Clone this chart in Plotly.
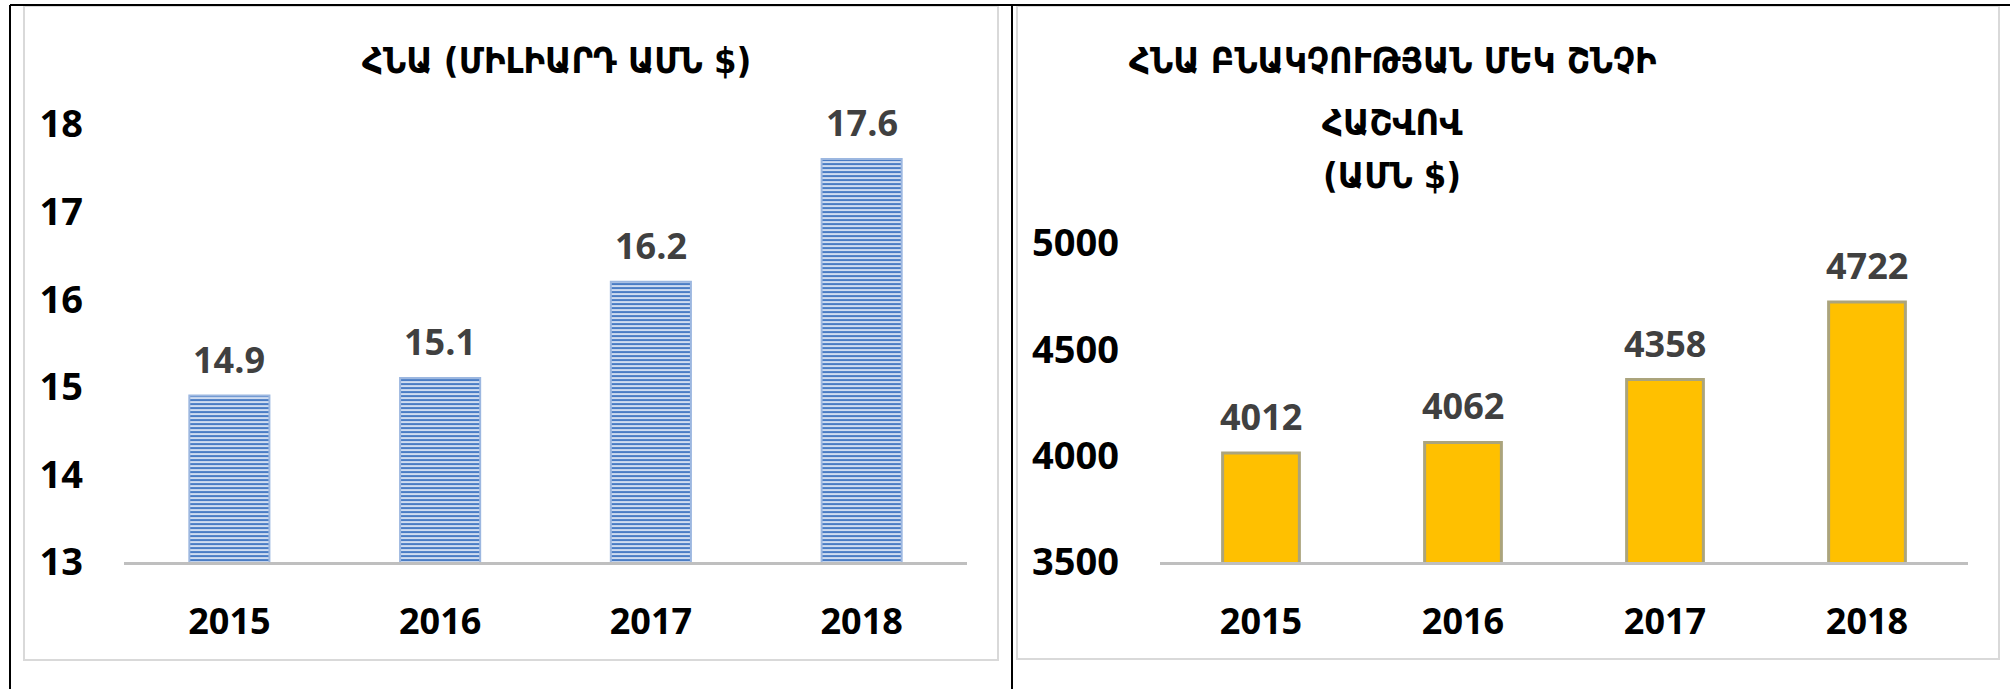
import plotly.graph_objects as go

# ---- data ----
years = ["2015", "2016", "2017", "2018"]
gdp_bn = [14.9, 15.1, 16.2, 17.6]
gdp_pc = [4012, 4062, 4358, 4722]
gdp_ticks = [13, 14, 15, 16, 17, 18]
pc_ticks = [3500, 4000, 4500, 5000]
title_left = "ՀՆԱ (ՄԻԼԻԱՐԴ ԱՄՆ $)"
title_right_lines = ["ՀՆԱ ԲՆԱԿՉՈՒԹՅԱՆ ՄԵԿ ՇՆՉԻ", "ՀԱՇՎՈՎ", "(ԱՄՆ $)"]

W, H = 2010, 689


def px_x(v):
    return v / W


def px_y(v):
    return 1 - v / H


NUM_FONT = "Open Sans, Lato, sans-serif"
TITLE_FONT = "DejaVu Sans Condensed, DejaVu Sans, sans-serif"

fig = go.Figure()

fig.add_trace(go.Bar(
    x=years, y=gdp_bn, xaxis="x", yaxis="y",
    marker=dict(
        color="#D0DDF1",
        pattern=dict(shape="-", fgcolor="#4A7CC4", bgcolor="#D0DDF1",
                     size=4, solidity=0.5, fillmode="replace"),
        line=dict(color="#9CB7E0", width=2),
    ),
    showlegend=False, hoverinfo="skip",
))
fig.add_trace(go.Bar(
    x=years, y=gdp_pc, xaxis="x2", yaxis="y2",
    marker=dict(color="#FFC000", line=dict(color="#ABA47C", width=3)),
    showlegend=False, hoverinfo="skip",
))

# plot-area geometry (pixels)
L1, R1 = 124, 967
L2, R2 = 1160, 1968
BOT = 562
y1_top_val, y2_top_val = 18.25, 5100
per1 = (BOT - 124) / 5.0
per2 = (BOT - 243) / 1500.0
TOP1 = BOT - (y1_top_val - 13) * per1
TOP2 = BOT - (y2_top_val - 3500) * per2

common = dict(showgrid=False, zeroline=False, automargin=False, ticks="")
xfont = dict(family=NUM_FONT, size=36, color="#000000", weight="bold")
yfont = dict(family=NUM_FONT, size=38, color="#000000", weight="bold")
xrange = [-0.5, len(years) - 0.5]

fig.update_layout(
    width=W, height=H, autosize=False,
    margin=dict(l=0, r=0, t=0, b=0, pad=0),
    paper_bgcolor="white", plot_bgcolor="white",
    bargap=0.62,
    xaxis=dict(type="category", range=xrange, domain=[px_x(L1), px_x(R1)], anchor="y",
               showline=True, linecolor="#BFBFBF", linewidth=3,
               ticklabelstandoff=26, tickfont=xfont, **common),
    yaxis=dict(domain=[px_y(BOT), px_y(TOP1)], anchor="x",
               range=[13, y1_top_val], tickvals=gdp_ticks,
               showline=False, ticklabelstandoff=40, tickfont=yfont, **common),
    xaxis2=dict(type="category", range=xrange, domain=[px_x(L2), px_x(R2)], anchor="y2",
                showline=True, linecolor="#BFBFBF", linewidth=3,
                ticklabelstandoff=26, tickfont=xfont, **common),
    yaxis2=dict(domain=[px_y(BOT), px_y(TOP2)], anchor="x2",
                range=[3500, y2_top_val], tickvals=pc_ticks,
                showline=False, ticklabelstandoff=40, tickfont=yfont, **common),
)

# data labels (category index on the category axis)
lab_font = dict(family=NUM_FONT, size=36, color="#404040", weight="bold")
for i, v in enumerate(gdp_bn):
    fig.add_annotation(x=i, y=v, xref="x", yref="y", text=f"{v:.1f}",
                       showarrow=False, yanchor="bottom", yshift=10, font=lab_font)
for i, v in enumerate(gdp_pc):
    fig.add_annotation(x=i, y=v, xref="x2", yref="y2", text=f"{v}",
                       showarrow=False, yanchor="bottom", yshift=10, font=lab_font)

# titles
title_font = dict(family=TITLE_FONT, size=36, color="#000000", weight="bold")
fig.add_annotation(x=px_x(556), y=px_y(60), xref="paper", yref="paper",
                   text=title_left, showarrow=False, xanchor="center", yanchor="middle",
                   font=title_font)
for line, yc in zip(title_right_lines, [60, 122, 176]):
    fig.add_annotation(x=px_x(1392), y=px_y(yc), xref="paper", yref="paper",
                       text=line, showarrow=False, xanchor="center", yanchor="middle",
                       font=title_font)

# chart-area borders (light gray)
for (x0, y0, x1, y1) in [(24, 6, 998, 660), (1017, 6, 1999, 659)]:
    fig.add_shape(type="rect", xref="paper", yref="paper",
                  x0=px_x(x0), x1=px_x(x1), y0=px_y(y1), y1=px_y(y0),
                  line=dict(color="#D9D9D9", width=2), fillcolor="rgba(0,0,0,0)", layer="below")

# table lines (black)
fig.add_shape(type="line", xref="paper", yref="paper",
              x0=px_x(10), x1=1, y0=px_y(5), y1=px_y(5), line=dict(color="black", width=2))
for xv in [10, 1012]:
    fig.add_shape(type="line", xref="paper", yref="paper",
                  x0=px_x(xv), x1=px_x(xv), y0=px_y(5), y1=0, line=dict(color="black", width=2))

fig.write_html("out.html", config={"displayModeBar": False},
               post_script="document.body.style.margin='0';")
